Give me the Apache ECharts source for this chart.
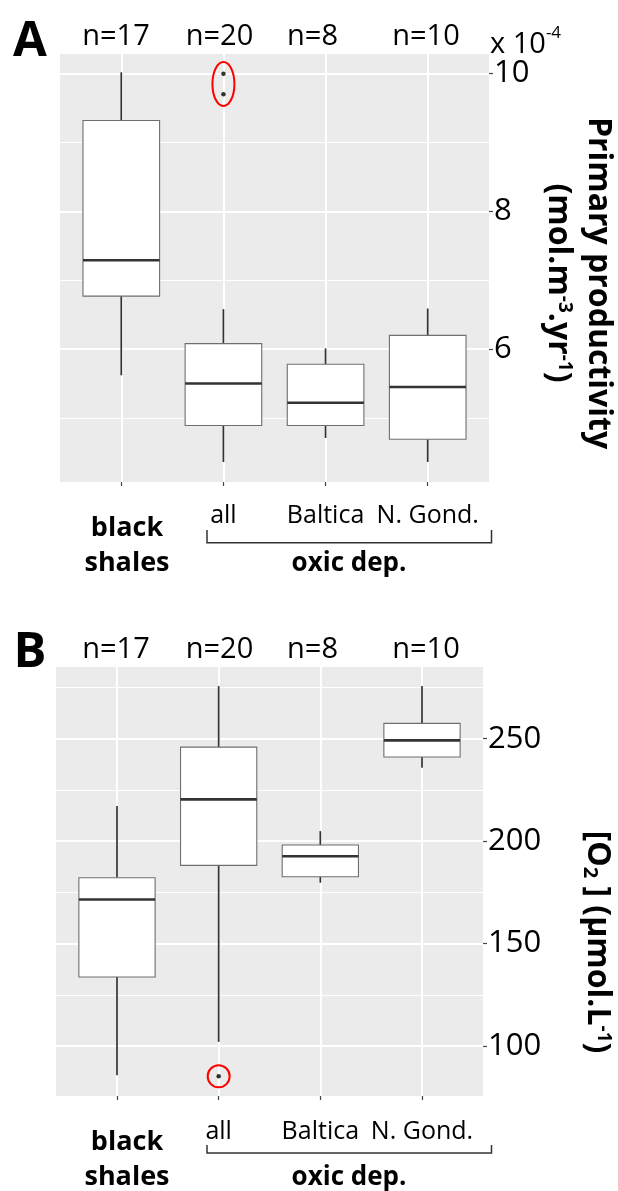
<!DOCTYPE html>
<html><head><meta charset="utf-8">
<script src="https://cdn.jsdelivr.net/npm/echarts@6/dist/echarts.min.js"></script>
<style>html,body{margin:0;padding:0;background:#fff}#c{width:618px;height:1191px}</style>
</head><body><div id="c"></div>
<script>
// ---- data ----
const categories = ['black shales', 'all', 'Baltica', 'N. Gond.'];
const counts = ['n=17', 'n=20', 'n=8', 'n=10'];
// Panel A: primary productivity (x 10^-4 mol.m-3.yr-1), [low whisker, Q1, median, Q3, high whisker]
const prodBoxes = [
  [5.62, 6.77, 7.29, 9.32, 10.02],
  [4.36, 4.89, 5.50, 6.08, 6.58],
  [4.71, 4.89, 5.22, 5.78, 6.01],
  [4.36, 4.69, 5.45, 6.20, 6.59]
];
const prodOutliers = [[1, 10.0], [1, 9.70]];
const prodTicks = [6, 8, 10];
// Panel B: [O2] (umol.L-1)
const o2Boxes = [
  [85.7, 133.7, 171.5, 182.1, 217.1],
  [102.0, 188.2, 220.4, 245.9, 275.7],
  [179.7, 182.6, 192.6, 198.1, 204.9],
  [235.8, 241.1, 249.2, 257.5, 275.7]
];
const o2Outliers = [[1, 85.2]];
const o2Ticks = [100, 150, 200, 250];
const catTicks = [0, 1, 2, 3];
const subLabelTicks = [1, 2, 3];

// ---- styles ----
const FONT = '"Open Sans", "Noto Sans", sans-serif';
const BG = '#EBEBEB';

function boxRender(params, api) {
  const x = api.value(0);
  const lo = api.value(1), q1 = api.value(2), med = api.value(3), q3 = api.value(4), hi = api.value(5);
  const halfW = api.size([0.75, 0])[0] / 2;
  const pLo = api.coord([x, lo]), pQ1 = api.coord([x, q1]), pMed = api.coord([x, med]);
  const pQ3 = api.coord([x, q3]), pHi = api.coord([x, hi]);
  const ws = { stroke: '#333', lineWidth: 1.7 };
  return {
    type: 'group',
    children: [
      { type: 'line', shape: { x1: pLo[0], y1: pLo[1], x2: pQ1[0], y2: pQ1[1] }, style: ws },
      { type: 'line', shape: { x1: pQ3[0], y1: pQ3[1], x2: pHi[0], y2: pHi[1] }, style: ws },
      { type: 'rect', shape: { x: pQ3[0] - halfW, y: pQ3[1], width: 2 * halfW, height: pQ1[1] - pQ3[1] },
        style: { fill: '#fff', stroke: '#6f6f6f', lineWidth: 1.1 } },
      { type: 'line', shape: { x1: pMed[0] - halfW, y1: pMed[1], x2: pMed[0] + halfW, y2: pMed[1] },
        style: { stroke: '#333', lineWidth: 2.6 } }
    ]
  };
}

function makeEllipseRender(rx, ry) {
  return function (params, api) {
    const p = api.coord([api.value(0), api.value(1)]);
    return { type: 'ellipse', shape: { cx: p[0], cy: p[1], rx: rx, ry: ry },
      style: { fill: 'none', stroke: '#ff0000', lineWidth: 2 } };
  };
}
function centerOf(pts) {
  const n = pts.length;
  return [pts.reduce((s, p) => s + p[0], 0) / n, pts.reduce((s, p) => s + p[1], 0) / n];
}

function xAxisFor(gridIndex, margin) {
  return {
    type: 'value', gridIndex: gridIndex, min: -0.6, max: 3.6, minInterval: 1, maxInterval: 1,
    axisLine: { show: false },
    axisTick: { show: true, customValues: catTicks, length: 4, lineStyle: { color: '#444', width: 1.2 } },
    axisLabel: { customValues: subLabelTicks, formatter: v => categories[Math.round(v)] || '',
      fontFamily: FONT, fontSize: 25, color: '#000', margin: margin },
    splitLine: { show: true, lineStyle: { color: '#fff', width: 2 } }
  };
}
function yMajor(gridIndex, min, max, step, ticks, fs) {
  return {
    type: 'value', gridIndex: gridIndex, position: 'right', min: min, max: max,
    minInterval: step, maxInterval: step,
    axisLine: { show: false },
    axisTick: { show: true, customValues: ticks, length: 4, lineStyle: { color: '#444', width: 1.2 } },
    axisLabel: { customValues: ticks, fontFamily: FONT, fontSize: fs, color: '#000', margin: 5 },
    splitLine: { show: true, lineStyle: { color: '#fff', width: 2 } }
  };
}
function yMinor(gridIndex, min, max, step) {
  return {
    type: 'value', gridIndex: gridIndex, position: 'right', min: min, max: max,
    minInterval: step, maxInterval: step,
    axisLine: { show: false }, axisTick: { show: false }, axisLabel: { show: false },
    splitLine: { show: true, lineStyle: { color: '#fff', width: 1 } }
  };
}

const txt = (x, y, text, size, weight, align, extra) => Object.assign({
  type: 'text', x: x, y: y, silent: true,
  style: { text: text, font: (weight || 'normal') + ' ' + size + 'px ' + FONT, fill: '#000',
    align: align || 'center', verticalAlign: 'middle' }
}, extra || {});

const nPosA = [116, 219.5, 312.5, 426];
const graphics = [];
// panel letters
graphics.push(txt(30, 42, 'A', 49, 'bold'));
graphics.push(txt(30, 653, 'B', 49, 'bold'));
// n labels
counts.forEach((c, i) => {
  graphics.push(txt(nPosA[i], 37, c, 29));
  graphics.push(txt(nPosA[i], 650, c, 29));
});
// x 10^-4
graphics.push({ type: 'text', x: 490, y: 42, silent: true, style: {
  text: '{b|x 10}{s|-4}', align: 'left', verticalAlign: 'middle', fill: '#000',
  rich: { b: { fontFamily: FONT, fontSize: 29, lineHeight: 34, verticalAlign: 'bottom' },
          s: { fontFamily: FONT, fontSize: 17, lineHeight: 34, verticalAlign: 'top' } } } });
// axis titles
const richBold = {
  b: { fontFamily: FONT, fontWeight: 'bold', fontSize: 32, lineHeight: 40, verticalAlign: 'middle' },
  s: { fontFamily: FONT, fontWeight: 'bold', fontSize: 19, lineHeight: 40, verticalAlign: 'top', padding: [4, 0, 0, 0] },
  d: { fontFamily: FONT, fontWeight: 'bold', fontSize: 20, lineHeight: 40, verticalAlign: 'bottom', padding: [0, 0, 3, 0] }
};
graphics.push({ type: 'text', x: 578, y: 283, rotation: -Math.PI / 2, silent: true, style: {
  text: '{b|Primary productivity}\n{b|(mol.m}{s|-3}{b|.yr}{s|-1}{b|)}', align: 'center', verticalAlign: 'middle',
  fill: '#000', rich: richBold } });
graphics.push({ type: 'text', x: 597, y: 942, rotation: -Math.PI / 2, silent: true, style: {
  text: '{b|[O}{d|2}{b| ] (µmol.L}{s|-1}{b|)}', align: 'center', verticalAlign: 'middle',
  fill: '#000', rich: richBold } });
// group labels and brackets
[[546, 542.7, 530], [1160, 1153, 1145]].forEach(([cy, by, bt]) => {
  graphics.push({ type: 'text', x: 127, y: cy, silent: true, style: {
    text: 'black\nshales', font: 'bold 27px ' + FONT, lineHeight: 35, fill: '#000', align: 'center', verticalAlign: 'middle' } });
  graphics.push(txt(349, cy + 17.5, 'oxic dep.', 26, 'bold'));
  graphics.push({ type: 'polyline', silent: true, shape: { points: [[207, bt], [207, by], [491.5, by], [491.5, bt]] },
    style: { stroke: '#333', lineWidth: 1.5, fill: null } });
});

const chart = echarts.init(document.getElementById('c'), null, { renderer: 'canvas' });
chart.setOption({
  animation: false,
  backgroundColor: '#fff',
  grid: [
    { left: 60, top: 53, width: 429, height: 429, show: true, backgroundColor: BG, borderWidth: 0 },
    { left: 56, top: 666, width: 427, height: 430, show: true, backgroundColor: BG, borderWidth: 0 }
  ],
  xAxis: [xAxisFor(0, 21), xAxisFor(1, 23)],
  yAxis: [
    yMinor(0, 4.07, 10.3, 1),
    yMajor(0, 4.07, 10.3, 2, prodTicks, 31),
    yMinor(1, 75.6, 285.5, 25),
    yMajor(1, 75.6, 285.5, 50, o2Ticks, 31)
  ],
  graphic: graphics,
  series: [
    { type: 'custom', xAxisIndex: 0, yAxisIndex: 1, renderItem: boxRender, silent: true,
      encode: { x: 0, y: [1, 2, 3, 4, 5] }, data: prodBoxes.map((b, i) => [i].concat(b)) },
    { type: 'scatter', xAxisIndex: 0, yAxisIndex: 1, symbolSize: 4.5, silent: true,
      itemStyle: { color: '#000' }, data: prodOutliers },
    { type: 'custom', xAxisIndex: 0, yAxisIndex: 1, renderItem: makeEllipseRender(11, 22), silent: true,
      encode: { x: 0, y: 1 }, data: [centerOf(prodOutliers)] },
    { type: 'custom', xAxisIndex: 1, yAxisIndex: 3, renderItem: boxRender, silent: true,
      encode: { x: 0, y: [1, 2, 3, 4, 5] }, data: o2Boxes.map((b, i) => [i].concat(b)) },
    { type: 'scatter', xAxisIndex: 1, yAxisIndex: 3, symbolSize: 4.5, silent: true,
      itemStyle: { color: '#000' }, data: o2Outliers },
    { type: 'custom', xAxisIndex: 1, yAxisIndex: 3, renderItem: makeEllipseRender(11, 11), silent: true,
      encode: { x: 0, y: 1 }, data: [centerOf(o2Outliers)] }
  ]
});
</script>
</body></html>
